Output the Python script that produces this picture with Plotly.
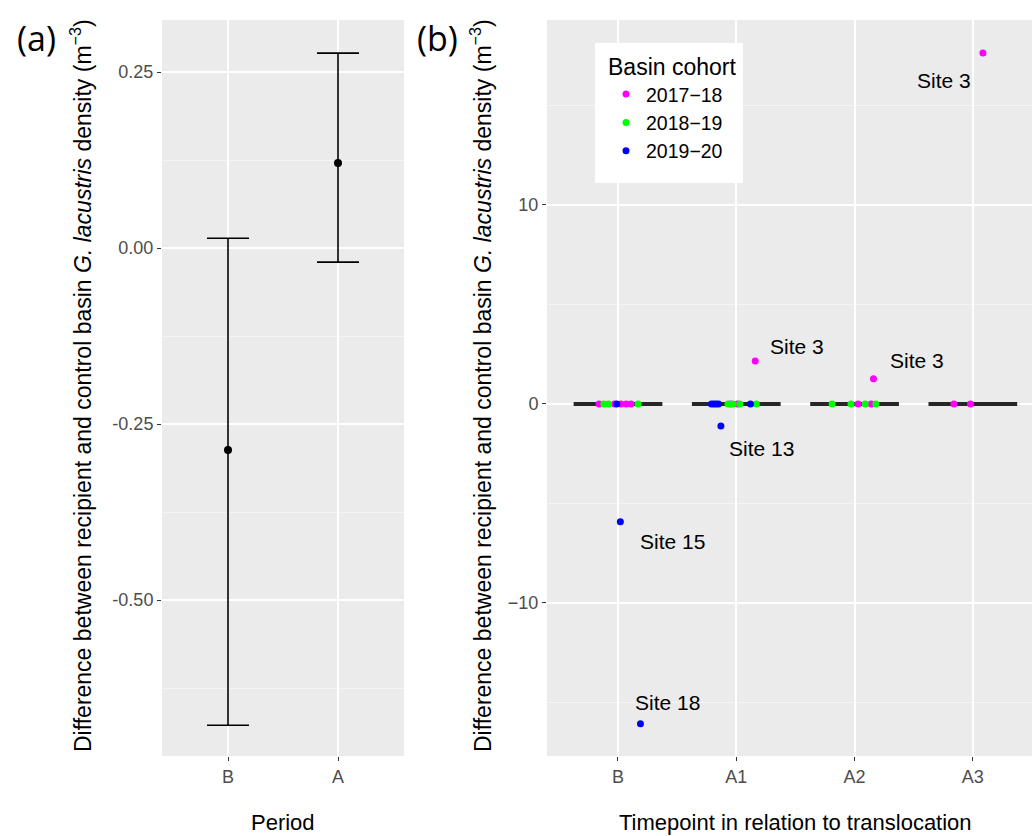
import numpy as np
import plotly.graph_objects as go

# ---------------- Panel (a) data ----------------
periods = ["B", "A"]
period_mean = [-0.287, 0.121]
period_lower = [-0.678, -0.020]
period_upper = [0.014, 0.277]

# ---------------- Panel (b) data ----------------
timepoints = ["B", "A1", "A2", "A3"]
cohorts = ["2017−18", "2018−19", "2019−20"]
cohort_colors = ["#FF00FF", "#00FF00", "#0000FF"]

# one entry per site observation
obs_cohort = [0, 0, 0, 0, 0,
              0, 0, 0,
              0, 0, 0,
              0, 0, 0,
              1, 1, 1,
              1, 1, 1, 1,
              1, 1, 1, 1,
              2, 2, 2,
              2, 2, 2, 2, 2, 2]
obs_timepoint = [0, 0, 0, 0, 0,
                 1, 1, 1,
                 2, 2, 2,
                 3, 3, 3,
                 0, 0, 0,
                 1, 1, 1, 1,
                 2, 2, 2, 2,
                 0, 0, 0,
                 1, 1, 1, 1, 1, 1]
obs_jitter = [-0.16, -0.03, 0.025, 0.07, 0.11,
              -0.05, 0.01, 0.16,
              0.03, 0.14, 0.16,
              -0.16, -0.02, 0.085,
              -0.12, -0.08, 0.17,
              -0.07, -0.03, 0.03, 0.17,
              -0.19, -0.03, 0.09, 0.18,
              -0.01, 0.02, 0.19,
              -0.21, -0.19, -0.17, -0.15, 0.12, -0.13]
obs_diff = [0, 0, 0, 0, 0,
            0, 0, 2.16,
            0, 0, 1.26,
            0, 0, 17.64,
            0, 0, 0,
            0, 0, 0, 0,
            0, 0, 0, 0,
            0, -5.93, -16.08,
            0, 0, 0, 0, 0, -1.11]
obs_site = ["", "", "", "", "",
            "", "", "Site 3",
            "", "", "Site 3",
            "", "", "Site 3",
            "", "", "",
            "", "", "", "",
            "", "", "", "",
            "", "Site 15", "Site 18",
            "", "", "", "", "", "Site 13"]

# label pixel offsets (ggrepel-like placement), keyed by (timepoint, site)
label_offsets = {
    (3, "Site 3"): (-39, -27),
    (1, "Site 3"): (42, 14),
    (2, "Site 3"): (44, 18),
    (1, "Site 13"): (41, -23),
    (0, "Site 15"): (52, -20),
    (0, "Site 18"): (27, 21),
}

FONT = "Liberation Sans, Arial, sans-serif"
W, H = 1032, 836
PANEL_BG = "#EBEBEB"
TICK_COL = "#4D4D4D"

fig = go.Figure()

# ---- Panel (a): means with error bars ----
fig.add_trace(go.Scatter(
    x=periods, y=period_mean, mode="markers",
    marker=dict(color="black", size=8),
    error_y=dict(type="data", symmetric=False,
                 array=[u - m for u, m in zip(period_upper, period_mean)],
                 arrayminus=[m - l for m, l in zip(period_mean, period_lower)],
                 color="black", thickness=1.6, width=21),
    showlegend=False, xaxis="x", yaxis="y", hoverinfo="skip"))

# ---- Panel (b): median crossbars ----
tp_arr = np.array(obs_timepoint)
diff_arr = np.array(obs_diff, dtype=float)
for i, tp in enumerate(timepoints):
    med = float(np.median(diff_arr[tp_arr == i]))
    fig.add_trace(go.Scatter(
        x=[i - 0.375, i + 0.375], y=[med, med], mode="lines",
        line=dict(color="#262626", width=4),
        showlegend=False, xaxis="x2", yaxis="y2", hoverinfo="skip"))

# ---- Panel (b): jittered points by cohort ----
xpos = [t + j for t, j in zip(obs_timepoint, obs_jitter)]
for c, (name, col) in enumerate(zip(cohorts, cohort_colors)):
    idx = [k for k, cc in enumerate(obs_cohort) if cc == c]
    fig.add_trace(go.Scatter(
        x=[xpos[k] for k in idx], y=[obs_diff[k] for k in idx],
        mode="markers", name=name, legendgroup=name,
        marker=dict(color=col, size=7),
        xaxis="x2", yaxis="y2"))

annotations = []
for k, s in enumerate(obs_site):
    if s:
        dx, dy = label_offsets[(obs_timepoint[k], s)]
        annotations.append(dict(
            x=xpos[k], y=obs_diff[k], xref="x2", yref="y2", text=s,
            showarrow=False, xshift=dx, yshift=dy,
            font=dict(family=FONT, size=21, color="black")))

ytitle = ("Difference between recipient and control basin <i>G. lacustris</i> "
          "density (m<sup>−3</sup>)")
for xc in (81, 481):
    annotations.append(dict(
        x=xc / W, y=1 - 386 / H, xref="paper", yref="paper", text=ytitle,
        textangle=-90, showarrow=False, xanchor="center", yanchor="middle",
        font=dict(family=FONT, size=23, color="black")))
annotations.append(dict(x=283 / W, y=1 - 822 / H, xref="paper", yref="paper",
                        text="Period", showarrow=False, xanchor="center", yanchor="middle",
                        font=dict(family=FONT, size=22, color="black")))
annotations.append(dict(x=795 / W, y=1 - 822 / H, xref="paper", yref="paper",
                        text="Timepoint in relation to translocation", showarrow=False,
                        xanchor="center", yanchor="middle",
                        font=dict(family=FONT, size=22, color="black")))
annotations.append(dict(x=36 / W, y=1 - 38 / H, xref="paper", yref="paper",
                        text="(a)", showarrow=False, xanchor="center", yanchor="middle",
                        font=dict(family="Open Sans, sans-serif", size=34, color="black")))
annotations.append(dict(x=437 / W, y=1 - 38 / H, xref="paper", yref="paper",
                        text="(b)", showarrow=False, xanchor="center", yanchor="middle",
                        font=dict(family="Open Sans, sans-serif", size=34, color="black")))

# white legend key box (ggplot-style padding)
shapes = [dict(type="rect", xref="paper", yref="paper",
               x0=595 / W, x1=743 / W, y0=1 - 183 / H, y1=1 - 43 / H,
               fillcolor="white", line=dict(width=0), layer="above")]

ydom = [1 - 756 / H, 1 - 20 / H]
common_axis = dict(showline=False, zeroline=False, ticks="outside", ticklen=4,
                   tickcolor="#333333", tickwidth=1.2,
                   tickfont=dict(family=FONT, size=18, color=TICK_COL),
                   gridcolor="white", gridwidth=1.6)

fig.update_layout(
    width=W, height=H, margin=dict(l=0, r=0, t=0, b=0),
    paper_bgcolor="white", plot_bgcolor=PANEL_BG,
    font=dict(family=FONT),
    xaxis=dict(domain=[162 / W, 404 / W], type="category", range=[-0.6, 1.6],
               anchor="y", **common_axis),
    yaxis=dict(domain=ydom, range=[-0.7216, 0.324], anchor="x",
               tickvals=[-0.5, -0.25, 0, 0.25], ticktext=["-0.50", "-0.25", "0.00", "0.25"],
               minor=dict(tickvals=[-0.625, -0.375, -0.125, 0.125], showgrid=True,
                          gridcolor="#F5F5F5", gridwidth=0.8, ticks=""),
               **common_axis),
    xaxis2=dict(domain=[547 / W, 1.0], range=[-0.6, 3.5], anchor="y2",
                tickvals=[0, 1, 2, 3], ticktext=timepoints, **common_axis),
    yaxis2=dict(domain=ydom, range=[-17.7, 19.3], anchor="x2",
                tickvals=[-10, 0, 10],
                minor=dict(tickvals=[-15, -5, 5, 15], showgrid=True,
                           gridcolor="#F5F5F5", gridwidth=0.8, ticks=""),
                **common_axis),
    legend=dict(x=606 / W, y=1 - 45 / H, xanchor="left", yanchor="top",
                bgcolor="rgba(255,255,255,0)", borderwidth=0,
                font=dict(family=FONT, size=19.5, color="black"),
                title=dict(text="Basin cohort", font=dict(family=FONT, size=23, color="black")),
                tracegroupgap=0),
    shapes=shapes,
    annotations=annotations,
)

fig.write_html("out.html", config={"displayModeBar": False},
               post_script="document.body.style.margin='0';")
